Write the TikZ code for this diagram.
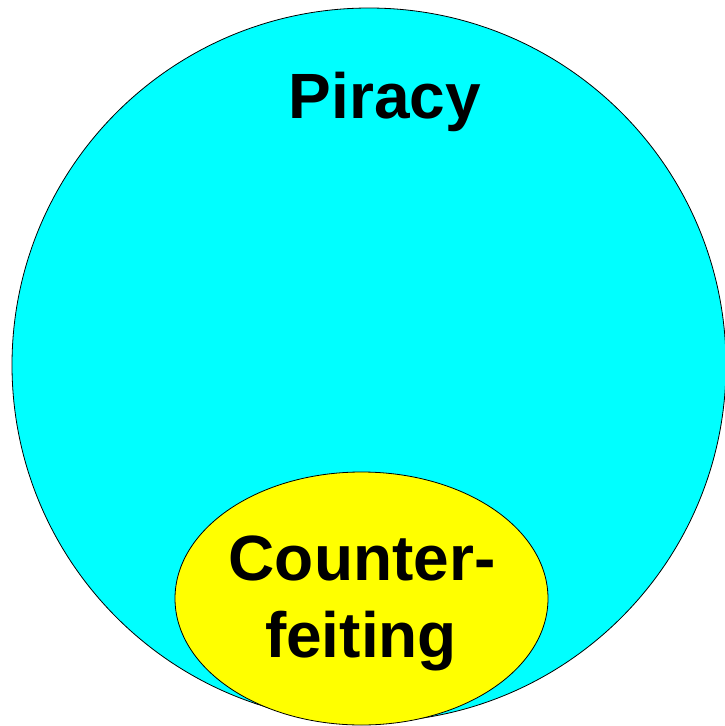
\documentclass[tikz,border=0pt]{standalone}
\usepackage{fontspec}
\setmainfont{Liberation Sans}
\usepackage{xcolor}
\usepackage{tikz}
\definecolor{piracycyan}{RGB}{0,255,255}
\definecolor{fakeyellow}{RGB}{255,255,0}

\begin{document}
\begin{tikzpicture}[x=1pt,y=-1pt,font=\fontsize{64}{77}\selectfont\bfseries,
  lbl/.style={inner sep=0pt,anchor=base}]
\useasboundingbox (0,0) rectangle (725,726);
\draw[fill=piracycyan,line width=0.8pt] (369,365) circle (357);
\draw[fill=fakeyellow,line width=0.8pt] (361.5,598.5) ellipse (186.5 and 126.5);
\node[lbl] (piracy) at (385,118) {Piracy};
\node[lbl] (counter) at (362,580) {Counter-};
\node[lbl] (feiting) at (361,657) {feiting};
\end{tikzpicture}
\end{document}
